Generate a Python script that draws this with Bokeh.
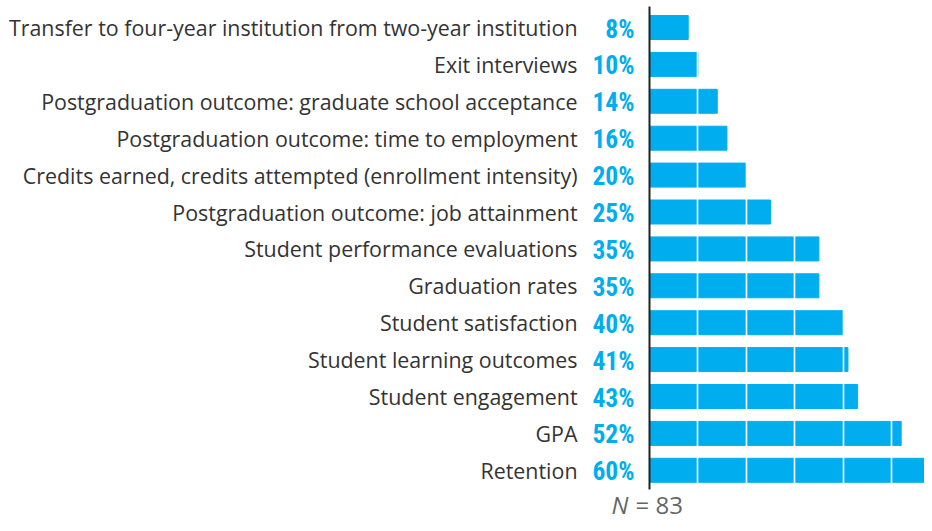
from bokeh.plotting import figure
from bokeh.models import ColumnDataSource, Range1d, FixedTicker
from bokeh.core.properties import value
from bokeh.embed import file_html
from bokeh.resources import INLINE

categories = [
    "Transfer to four-year institution from two-year institution",
    "Exit interviews",
    "Postgraduation outcome: graduate school acceptance",
    "Postgraduation outcome: time to employment",
    "Credits earned, credits attempted (enrollment intensity)",
    "Postgraduation outcome: job attainment",
    "Student performance evaluations",
    "Graduation rates",
    "Student satisfaction",
    "Student learning outcomes",
    "Student engagement",
    "GPA",
    "Retention",
]
values = [8, 10, 14, 16, 20, 25, 35, 35, 40, 41, 43, 52, 60]
grid_ticks = [10, 20, 30, 40, 50]
n_label = "83"

BLUE = "#00AEEF"
W, H = 924, 523
px_per_unit = 4.84
x_start = -649 / px_per_unit
x_end = x_start + W / px_per_unit
row_px = 36.9
y_end = -27 / row_px
y_start = y_end + H / row_px

rows = list(range(len(categories)))
src = ColumnDataSource(dict(
    y=rows,
    v=values,
    cat=categories,
    lab=[f"{v}%" for v in values],
    zero=[0] * len(rows),
))

p = figure(width=W, height=H, output_backend="svg", toolbar_location=None,
           x_range=Range1d(x_start, x_end), y_range=Range1d(y_start, y_end),
           min_border=0, outline_line_color=None)
p.axis.visible = False
p.ygrid.visible = False
p.xgrid.ticker = FixedTicker(ticks=grid_ticks)
p.xgrid.grid_line_color = "white"
p.xgrid.grid_line_width = 1.6
p.xgrid.level = "overlay"
p.background_fill_color = "white"
p.border_fill_color = "white"

p.hbar(y="y", left=0, right="v", height=0.65, color=BLUE, source=src)

# axis line
p.segment(x0=0, y0=-0.57, x1=0, y1=len(categories) - 0.48,
          line_color="#222222", line_width=2)

p.text(x="zero", y="y", text="cat", source=src, x_offset=-72,
       text_align="right", text_baseline="middle",
       text_font=value("Open Sans"), text_font_size="21.4px", text_color="#333333")

p.text(x="zero", y="y", text="lab", source=src, x_offset=-15, y_offset=1,
       text_align="right", text_baseline="middle",
       text_font=value("Roboto Condensed, Roboto"), text_font_style="bold",
       text_font_size="25.5px", text_color=BLUE)

ny = len(categories) + 0.0
p.text(x=[0], y=[ny], text=["N"], x_offset=-21, y_offset=-3, text_align="right",
       text_baseline="middle", text_font=value("Open Sans"), text_font_style="italic",
       text_font_size="24px", text_color="#666666")
p.text(x=[0], y=[ny], text=["= " + n_label], x_offset=-14, y_offset=-3, text_align="left",
       text_baseline="middle", text_font=value("Open Sans"),
       text_font_size="24px", text_color="#666666")

open("out.html", "w").write(file_html(p, INLINE))
